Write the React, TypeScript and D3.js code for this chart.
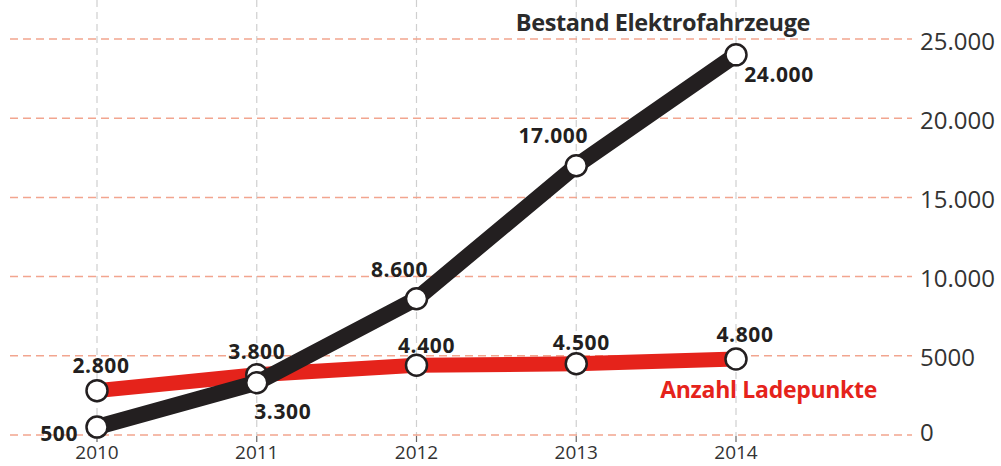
import { useEffect, useRef } from "react";
import * as d3 from "d3";

const YEARS = [2010, 2011, 2012, 2013, 2014];
const FAHRZEUGE = [500, 3300, 8600, 17000, 24000];
const LADEPUNKTE = [2800, 3800, 4400, 4500, 4800];
const Y_TICKS = [0, 5000, 10000, 15000, 20000, 25000];
const Y_TICK_LABELS = ["0", "5000", "10.000", "15.000", "20.000", "25.000"];
const FAHRZEUGE_LABELS = ["500", "3.300", "8.600", "17.000", "24.000"];
const LADEPUNKTE_LABELS = ["2.800", "3.800", "4.400", "4.500", "4.800"];

// label offsets relative to the point (dx, dy, anchor)
const F_OFFSETS: [number, number, string][] = [
  [-19, 6, "end"], [26, 28, "middle"], [-17, -30, "middle"], [-23, -31, "middle"], [43, 19, "middle"],
];
const L_OFFSETS: [number, number, string][] = [
  [4, -26, "middle"], [0, -24, "middle"], [10, -20, "middle"], [5, -22, "middle"], [9, -25, "middle"],
];

const BLACK = "#231f20";
const RED = "#e5231b";
const FONT = "'Open Sans', 'Noto Sans', sans-serif";

export default function App() {
  const ref = useRef<SVGSVGElement>(null);

  useEffect(() => {
    if (!ref.current) return;
    const svg = d3.select(ref.current);
    svg.selectAll("*").remove();
    const W = 1001, H = 466;
    svg.attr("width", W).attr("height", H).attr("viewBox", `0 0 ${W} ${H}`);

    const x = d3.scaleLinear().domain([2010, 2014]).range([97, 736]);
    const y = d3.scaleLinear().domain([0, 25000]).range([435, 39]);

    svg.append("rect").attr("width", W).attr("height", H).attr("fill", "#fff");

    // vertical grid
    svg.append("g").selectAll("line")
      .data(YEARS).enter().append("line")
      .attr("x1", d => x(d)).attr("x2", d => x(d))
      .attr("y1", 0).attr("y2", 436)
      .attr("stroke", "#cfcfcf").attr("stroke-width", 1.2)
      .attr("stroke-dasharray", "7,5");
    // small ticks below baseline
    svg.append("g").selectAll("line")
      .data(YEARS).enter().append("line")
      .attr("x1", d => x(d)).attr("x2", d => x(d))
      .attr("y1", 436).attr("y2", 442)
      .attr("stroke", "#666").attr("stroke-width", 1.2);

    // horizontal grid
    svg.append("g").selectAll("line")
      .data(Y_TICKS).enter().append("line")
      .attr("x1", 10).attr("x2", 912)
      .attr("y1", d => y(d)).attr("y2", d => y(d))
      .attr("stroke", "#f2a58f").attr("stroke-width", 1.5)
      .attr("stroke-dasharray", "8,5");

    // y tick labels
    svg.append("g").selectAll("text")
      .data(Y_TICKS).enter().append("text")
      .attr("x", 920)
      .attr("y", (d, i) => y(d) + (i === 0 ? -4 : 1))
      .attr("dominant-baseline", "central")
      .attr("font-family", FONT).attr("font-size", 24)
      .attr("fill", "#333")
      .text((_, i) => Y_TICK_LABELS[i]);

    // x labels
    svg.append("g").selectAll("text")
      .data(YEARS).enter().append("text")
      .attr("x", d => x(d)).attr("y", 452)
      .attr("text-anchor", "middle")
      .attr("dominant-baseline", "central")
      .attr("font-family", FONT).attr("font-size", 19)
      .attr("fill", "#333")
      .text(d => String(d));

    const line = d3.line<number>().x((_, i) => x(YEARS[i])).y(d => y(d));

    const drawSeries = (vals: number[], color: string, width: number) => {
      svg.append("path").datum(vals)
        .attr("fill", "none").attr("stroke", color).attr("stroke-width", width)
        .attr("stroke-linejoin", "round")
        .attr("d", line);
      svg.append("g").selectAll("circle")
        .data(vals).enter().append("circle")
        .attr("cx", (_, i) => x(YEARS[i])).attr("cy", d => y(d))
        .attr("r", 10.5)
        .attr("fill", "#fff").attr("stroke", BLACK).attr("stroke-width", 2.5);
    };

    drawSeries(LADEPUNKTE, RED, 15);
    drawSeries(FAHRZEUGE, BLACK, 16);

    const drawLabels = (vals: number[], labels: string[], offs: [number, number, string][]) => {
      svg.append("g").selectAll("text")
        .data(vals).enter().append("text")
        .attr("x", (_, i) => x(YEARS[i]) + offs[i][0])
        .attr("y", (d, i) => y(d) + offs[i][1])
        .attr("text-anchor", (_, i) => offs[i][2])
        .attr("dominant-baseline", "central")
        .attr("font-family", FONT).attr("font-size", 21).attr("font-weight", 700)
        .attr("letter-spacing", "0.6")
        .attr("fill", BLACK)
        .text((_, i) => labels[i]);
    };
    drawLabels(LADEPUNKTE, LADEPUNKTE_LABELS, L_OFFSETS);
    drawLabels(FAHRZEUGE, FAHRZEUGE_LABELS, F_OFFSETS);

    // series titles
    svg.append("text")
      .attr("x", 810).attr("y", 22)
      .attr("text-anchor", "end").attr("dominant-baseline", "central")
      .attr("font-family", FONT).attr("font-size", 23.5).attr("font-weight", 700)
      .attr("fill", "#2b2b2b").attr("letter-spacing", "-0.4")
      .text("Bestand Elektrofahrzeuge");
    svg.append("text")
      .attr("x", 877).attr("y", 389)
      .attr("text-anchor", "end").attr("dominant-baseline", "central")
      .attr("font-family", FONT).attr("font-size", 23).attr("font-weight", 700)
      .attr("fill", RED).attr("letter-spacing", "-0.3")
      .text("Anzahl Ladepunkte");
  }, []);

  return (
    <>
      <style>{"body{margin:0}"}</style>
      <svg ref={ref} style={{ display: "block" }} />
    </>
  );
}
